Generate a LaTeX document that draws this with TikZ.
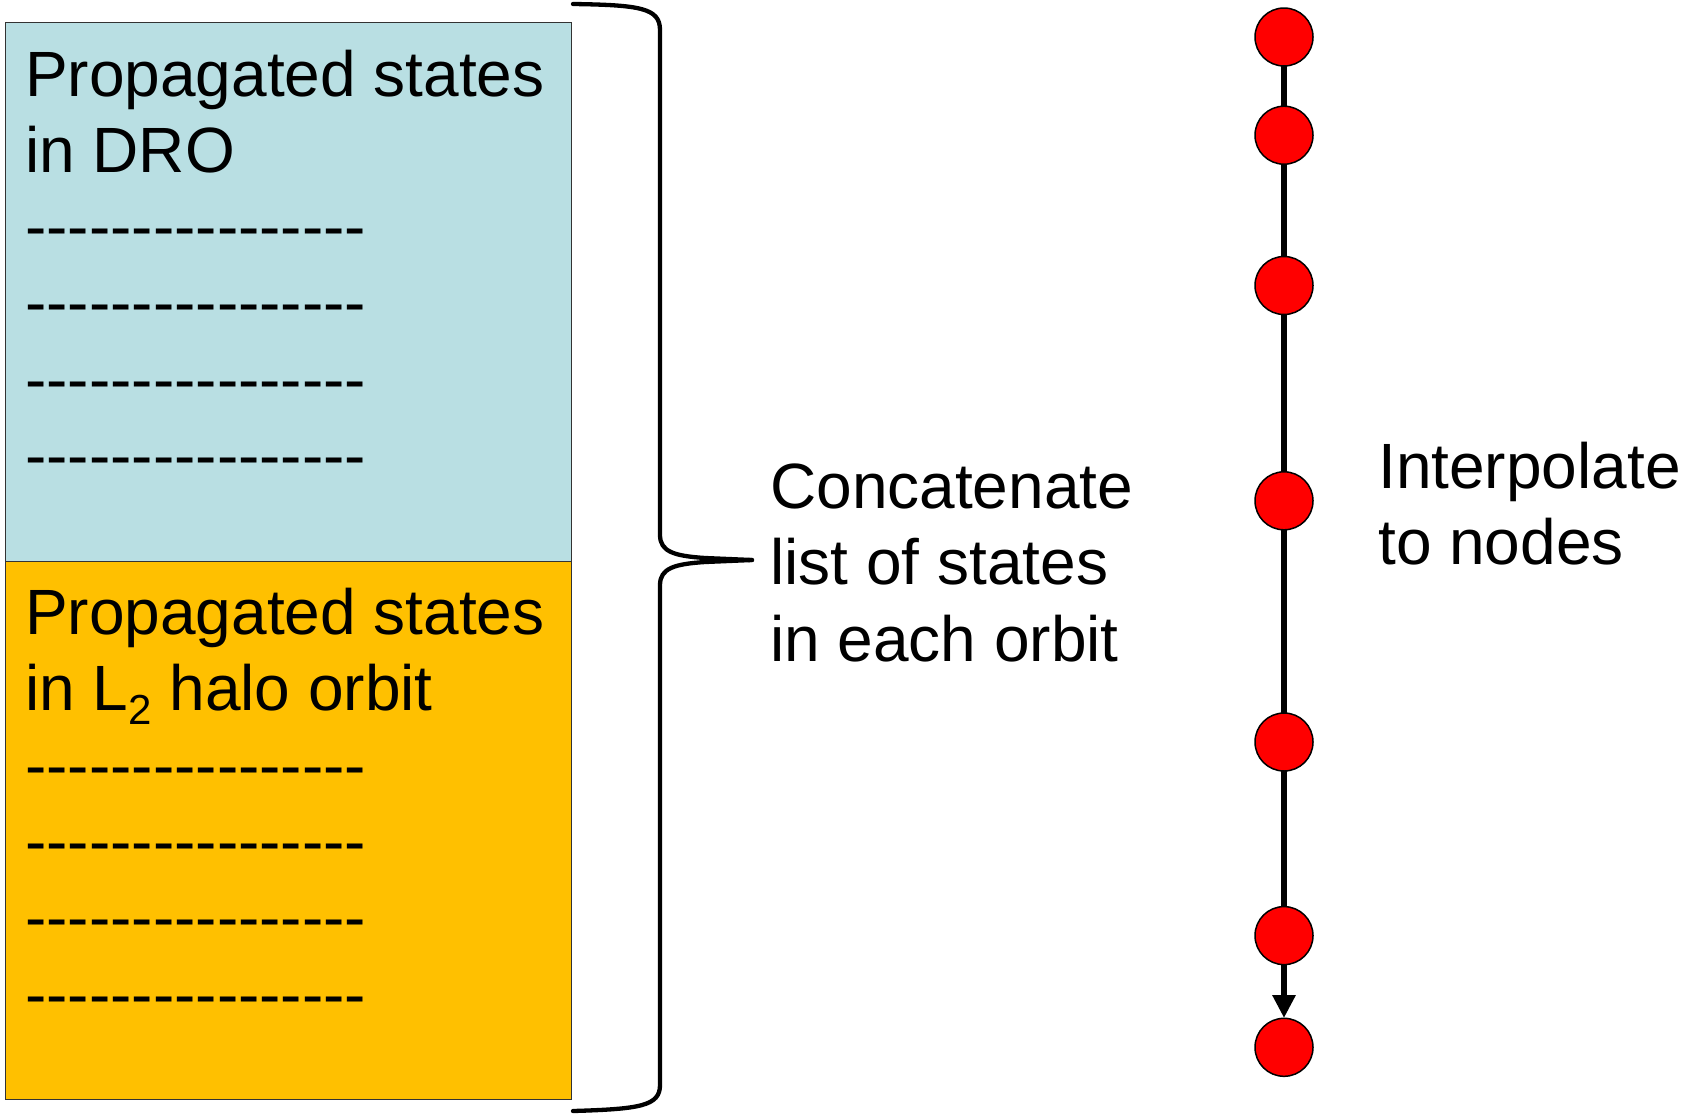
\documentclass[tikz,border=0pt]{standalone}
\usepackage{fontspec}
\setmainfont{Liberation Sans}
\usetikzlibrary{arrows.meta}
\definecolor{droblue}{HTML}{B9DFE3}
\definecolor{haloorange}{HTML}{FFC000}
\definecolor{nodered}{HTML}{FF0000}
\newcommand{\hyp}{\mbox{-}}
\newcommand{\dashrow}{\hyp\hyp\hyp\hyp\hyp\hyp\hyp\hyp\hyp\hyp\hyp\hyp\hyp\hyp\hyp\hyp}
\newcommand{\subtwo}{\raisebox{-14pt}{\fontsize{42}{42}\selectfont 2}}
\tikzset{
  statebox/.style={draw=black!80, line width=1.2pt, anchor=north west, inner sep=0pt,
    minimum width=566pt, minimum height=538.6pt},
  txt/.style={anchor=base west, inner sep=0pt, font=\fontsize{64}{76.3}\selectfont},
  dot/.style={circle, draw=black, line width=1.5pt, fill=nodered, minimum size=58pt, inner sep=0pt},
  spine/.style={line width=6pt, draw=black},
  bracepath/.style={line width=4.3pt, draw=black, line cap=round, line join=round}
}
\begin{document}
\begin{tikzpicture}[x=1pt,y=-1pt]
\useasboundingbox (0,0) rectangle (1696,1114);
% boxes
\node[statebox, fill=droblue] (dro) at (5,22) {};
\node[statebox, fill=haloorange] (halo) at (5,560.6) {};
% texts in top box
\node[txt] (d1) at (25,96) {Propagated states};
\node[txt] (d2) at (25,172.3) {in DRO};
\node[txt] (d3) at (25,248.6) {\dashrow};
\node[txt] (d4) at (25,324.9) {\dashrow};
\node[txt] (d5) at (25,401.2) {\dashrow};
\node[txt] (d6) at (25,477.5) {\dashrow};
% texts in bottom box
\node[txt] (h1) at (25,634.6) {Propagated states};
\node[txt] (h2) at (25,710.9) {in L\subtwo{} halo orbit};
\node[txt] (h3) at (25,787.2) {\dashrow};
\node[txt] (h4) at (25,863.5) {\dashrow};
\node[txt] (h5) at (25,939.8) {\dashrow};
\node[txt] (h6) at (25,1016.1) {\dashrow};
% brace
\draw[bracepath] (573,4) .. controls (640,5) and (660,8) .. (660,30)
  -- (660,535) .. controls (660,552) and (675,556) .. (705,558) -- (752,560);
\draw[bracepath] (752,560) -- (705,562) .. controls (675,564) and (660,568) .. (660,585)
  -- (660,1085) .. controls (660,1106) and (640,1109) .. (573,1111);
% middle text
\node[txt] (c1t) at (770,508) {Concatenate};
\node[txt] (c2t) at (770,584) {list of states};
\node[txt] (c3t) at (770,661) {in each orbit};
% right text
\node[txt] (i1) at (1378,488) {Interpolate};
\node[txt] (i2) at (1378,564) {to nodes};
% nodes column
\coordinate (p1) at (1284,37);
\coordinate (p6) at (1284,935.6);
\draw[spine] (p1) -- (p6);
\node[dot] (n1) at (1284,37) {};
\node[dot] (n2) at (1284,135.2) {};
\node[dot] (n3) at (1284,285.5) {};
\node[dot] (n4) at (1284,500.8) {};
\node[dot] (n5) at (1284,742) {};
\node[dot] (n6) at (1284,935.6) {};
\node[dot] (n7) at (1284,1047.3) {};
\draw[spine, -{Triangle[length=23pt,width=22pt]}, shorten >=-0.5pt] (n6) -- (n7);
\end{tikzpicture}
\end{document}
